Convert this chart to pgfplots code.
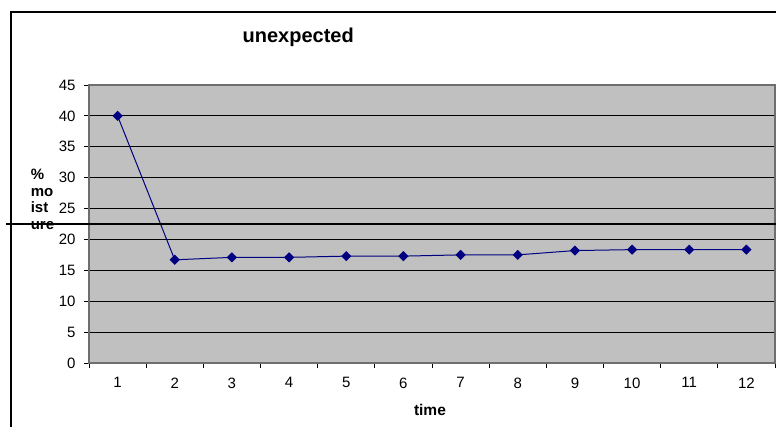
\documentclass[border=0pt]{standalone}
\usepackage{fontspec}
\setmainfont{Liberation Sans}
\usepackage{pgfplots}
\pgfplotsset{compat=1.18}
\definecolor{plotgray}{RGB}{192,192,192}
\definecolor{navy}{RGB}{0,0,128}
\definecolor{bordergray}{RGB}{110,110,110}
\begin{document}
\begin{tikzpicture}[x=1pt,y=1pt]
\useasboundingbox (0,0) rectangle (776,427);
\draw[line width=1.3pt] (11,0) -- (11,415) -- (776,415);
\begin{axis}[
  at={(89pt,64pt)}, anchor=south west,
  scale only axis, width=686pt, height=278pt,
  xmin=0.5, xmax=12.5, ymin=0, ymax=45,
  axis background/.style={fill=plotgray},
  axis line style={draw=bordergray, line width=1.4pt},
  ytick={0,5,10,15,20,25,30,35,40,45},
  ymajorgrids, grid style={black, line width=0.8pt},
  tick align=outside, major tick length=5pt,
  tick style={black, line width=0.8pt},
  xtick={0.5,1.5,2.5,3.5,4.5,5.5,6.5,7.5,8.5,9.5,10.5,11.5,12.5},
  xticklabels={},
  extra x ticks={1,2,3,4,5,6,7,8,9,10,11,12},
  extra x tick style={major tick length=0pt, grid=none},
  xtick pos=lower, ytick pos=left,
  /pgf/number format/assume math mode=true,
  ticklabel style={font=\fontsize{15}{17}\selectfont},
  xticklabel style={yshift=-11pt},
  yticklabel style={xshift=-5pt},
  title={unexpected},
  title style={font=\bfseries\fontsize{20}{23}\selectfont, at={(rel axis cs:0.305,1.15)}, anchor=center},
  xlabel={time},
  xlabel style={font=\bfseries\fontsize{15.5}{17}\selectfont, at={(rel axis cs:0.497,-0.169)}, anchor=center},
  ylabel={\%\\mo\\ist\\ure},
  ylabel style={font=\bfseries\fontsize{15}{16.5}\selectfont, align=left, rotate=-90, at={(rel axis cs:-0.09,0.71)}, anchor=north west},
]
\addplot[navy, line width=1pt, mark=square*, mark size=3.1pt, mark options={rotate=45, fill=navy, draw=navy}]
coordinates {(1,40) (2,16.7) (3,17.1) (4,17.1) (5,17.3) (6,17.3) (7,17.5) (8,17.5) (9,18.2) (10,18.35) (11,18.35) (12,18.35)};
\end{axis}
\draw[line width=2pt] (6,203) -- (776,203);
\end{tikzpicture}
\end{document}
